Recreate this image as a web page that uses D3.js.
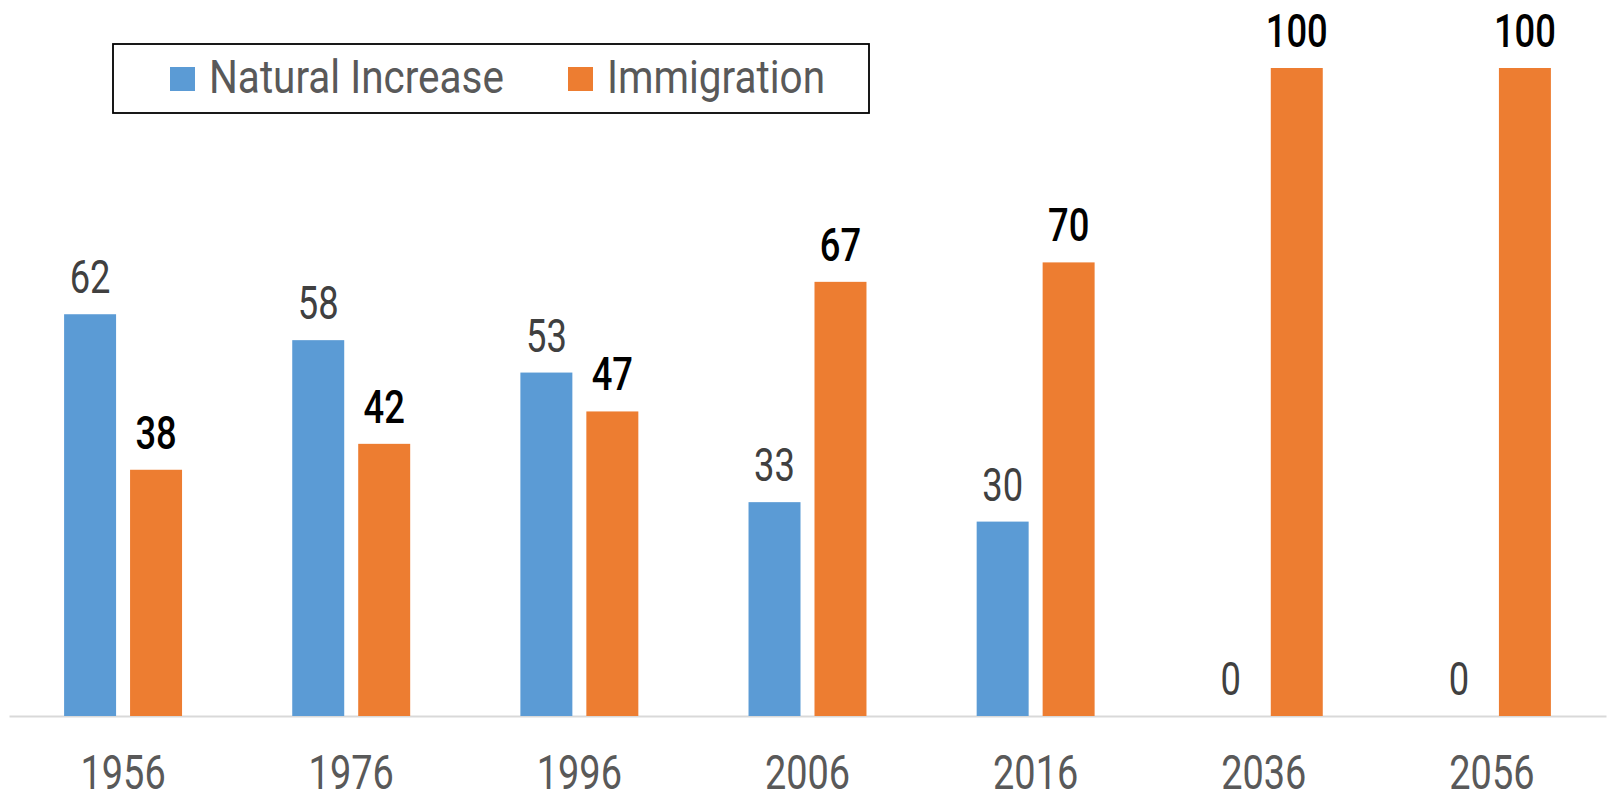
<!DOCTYPE html>
<html>
<head>
<meta charset="utf-8">
<title>Natural Increase vs Immigration</title>
<script src="https://cdn.jsdelivr.net/npm/d3@7"></script>
<style>
  body { margin: 0; background: #fff; }
  svg text { font-family: Roboto, 'Liberation Sans', sans-serif; }
</style>
</head>
<body>
<svg id="chart" width="1607" height="796"></svg>
<script>
// data
var years = ["1956", "1976", "1996", "2006", "2016", "2036", "2056"];
var naturalIncrease = [62, 58, 53, 33, 30, 0, 0];
var immigration = [38, 42, 47, 67, 70, 100, 100];
var seriesNames = ["Natural Increase", "Immigration"];
var seriesColors = ["#5B9BD5", "#ED7D31"];

// no narrow font installed, so squeeze Roboto sideways
var digitSqueeze = 0.79;
var wordSqueeze = 0.88;

var svg = d3.select("#chart");

var x0 = d3.scaleBand()
  .domain(years)
  .range([9, 1606])
  .paddingInner(0.483)
  .paddingOuter(0.2415);

var x1 = d3.scaleBand()
  .domain(seriesNames)
  .range([0, x0.bandwidth()])
  .paddingInner(0.212);

var y = d3.scaleLinear().domain([0, 100]).range([716, 68]);

var rows = years.map(function(yr, i) {
  return { year: yr, values: [naturalIncrease[i], immigration[i]] };
});

// axis along the bottom
var axis = svg.append("g")
  .attr("transform", "translate(0," + y(0) + ")")
  .call(d3.axisBottom(x0).tickSize(0).tickSizeOuter(0));
axis.select(".domain").attr("stroke", "#D9D9D9").attr("stroke-width", 2);
axis.selectAll(".tick text")
  .attr("y", 0)
  .attr("dy", 0)
  .attr("transform", "translate(0,73) scale(" + digitSqueeze + ",1)")
  .attr("fill", "#595959")
  .style("font-size", "48px")
  .style("font-family", "Roboto, sans-serif");

var groups = svg.selectAll("g.year")
  .data(rows)
  .enter().append("g")
  .attr("class", "year")
  .attr("transform", function(d) { return "translate(" + x0(d.year) + ",0)"; });

groups.selectAll("rect")
  .data(function(d) { return d.values.map(function(v, k) { return { k: k, v: v }; }); })
  .enter().append("rect")
  .attr("x", function(d) { return x1(seriesNames[d.k]); })
  .attr("y", function(d) { return y(d.v); })
  .attr("width", x1.bandwidth())
  .attr("height", function(d) { return y(0) - y(d.v); })
  .attr("fill", function(d) { return seriesColors[d.k]; });

groups.selectAll("text.val")
  .data(function(d) { return d.values.map(function(v, k) { return { k: k, v: v }; }); })
  .enter().append("text")
  .attr("class", "val")
  .attr("transform", function(d) {
    var cx = x1(seriesNames[d.k]) + x1.bandwidth() / 2;
    return "translate(" + cx + "," + (y(d.v) - 21) + ") scale(" + digitSqueeze + ",1)";
  })
  .attr("text-anchor", "middle")
  .attr("fill", function(d) { return d.k == 0 ? "#404040" : "#000"; })
  .style("font-size", "46px")
  .style("font-weight", function(d) { return d.k == 0 ? 400 : 500; })
  .text(function(d) { return d.v; });

// legend
var legend = svg.append("g");
legend.append("rect")
  .attr("x", 113).attr("y", 44)
  .attr("width", 756).attr("height", 69)
  .attr("fill", "#fff").attr("stroke", "#000").attr("stroke-width", 1.8);

var legendX = [170, 568];
var items = legend.selectAll("g.item")
  .data(seriesNames)
  .enter().append("g")
  .attr("class", "item")
  .attr("transform", function(d, i) { return "translate(" + legendX[i] + ",0)"; });
items.append("rect")
  .attr("x", 0).attr("y", 67)
  .attr("width", 25).attr("height", 24)
  .attr("fill", function(d, i) { return seriesColors[i]; });
items.append("text")
  .attr("transform", "translate(39,93) scale(" + wordSqueeze + ",1)")
  .attr("fill", "#595959")
  .style("font-size", "46px")
  .text(function(d) { return d; });
</script>
</body>
</html>
